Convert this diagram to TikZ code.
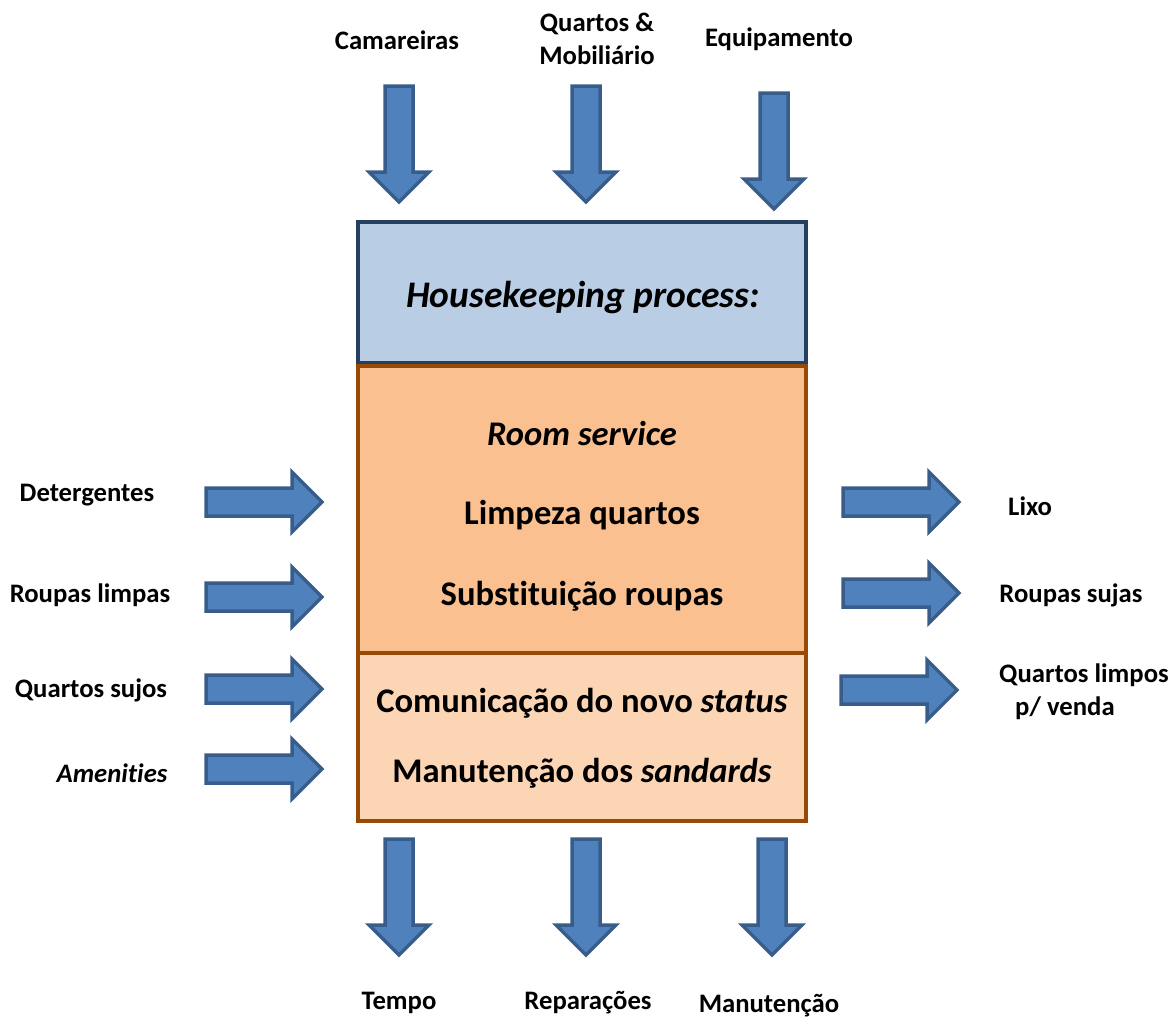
\documentclass[tikz,border=0pt]{standalone}
\usepackage{fontspec}
\setmainfont{Carlito}[Ligatures=NoCommon]
\newcommand{\nolig}{\kern0pt\relax}
\begin{document}
\begin{tikzpicture}[x=1pt,y=-1pt,
  arrowstyle/.style={fill=arrowfill,draw=arrowdraw,line width=3.5pt,line join=miter},
  lbl/.style={font=\fontsize{26.7}{33}\selectfont\bfseries,inner sep=0pt,align=center},
  boxtxt/.style={font=\fontsize{34.6}{40}\selectfont\bfseries,inner sep=0pt},
  downarrow/.pic={\path[arrowstyle] (-14,0) -- (-14,86) -- (-30,86) -- (0,116) -- (30,86) -- (14,86) -- (14,0) -- cycle;},
  rightarrow/.pic={\path[arrowstyle] (0,-14) -- (86,-14) -- (86,-30) -- (116,0) -- (86,30) -- (86,14) -- (0,14) -- cycle;}
]
\definecolor{arrowfill}{HTML}{4F81BD}
\definecolor{arrowdraw}{HTML}{385D8A}
\definecolor{bluefill}{HTML}{B9CDE5}
\definecolor{bluedraw}{HTML}{243F60}
\definecolor{orfill}{HTML}{FAC090}
\definecolor{lorfill}{HTML}{FCD5B5}
\definecolor{ordraw}{HTML}{984807}
\useasboundingbox (0,0) rectangle (1176,1018);

% main box
\path[fill=bluefill,draw=bluedraw,line width=4pt] (358,222) rectangle (806,363);
\path[fill=orfill,draw=ordraw,line width=4.5pt] (358,366) rectangle (806,653);
\path[fill=lorfill,draw=ordraw,line width=4.5pt] (358,653) rectangle (806,821);
\node[boxtxt,font=\fontsize{37.5}{40}\selectfont\bfseries\itshape] (hk) at (583,297) {Housekeeping process:};
\node[boxtxt,font=\fontsize{34.6}{40}\selectfont\bfseries\itshape] (rs) at (582,433) {Room service};
\node[boxtxt] (lq) at (582,515) {Limpeza quartos};
\node[boxtxt] (sr) at (582,596) {Substit\nolig uição roupas};
\node[boxtxt] (cs) at (582,703) {Comunicação do novo \textit{status}};
\node[boxtxt] (ms) at (582,773) {Manutenção dos \textit{sandards}};

% top
\pic at (399,86) {downarrow};
\pic at (586,86) {downarrow};
\pic at (774,93) {downarrow};
\node[lbl] (cam) at (397,40) {Camareiras};
\node[lbl] (qm) at (597,39) {Quartos \&\\Mobiliário};
\node[lbl] (eq) at (779,39) {Equipamento};

% bottom
\pic at (399,839) {downarrow};
\pic at (586,839) {downarrow};
\pic at (772,839) {downarrow};
\node[lbl] (te) at (399,1003) {Tempo};
\node[lbl] (re) at (588,1003) {Reparações};
\node[lbl] (ma) at (769,1006) {Manutenção};

% left
\pic at (206,502) {rightarrow};
\pic at (206,597) {rightarrow};
\pic at (206,689) {rightarrow};
\pic at (206,769) {rightarrow};
\node[lbl] (de) at (87,495) {Detergentes};
\node[lbl] (rl) at (90,595) {Roupas limpas};
\node[lbl] (qs) at (91,690) {Quartos sujos};
\node[lbl,font=\fontsize{26.7}{33}\selectfont\bfseries\itshape] (am) at (112,773) {Ameni\nolig t\nolig ies};

% right
\pic at (843,502) {rightarrow};
\pic at (843,593) {rightarrow};
\pic at (841,690) {rightarrow};
\node[lbl,anchor=west] (lx) at (1008,506) {Lixo};
\node[lbl] (rsj) at (1071,595) {Roupas sujas};
\node[lbl,align=left,anchor=north west] (ql) at (999,664) {Quartos limpos\\\hspace*{16pt}p/ venda};
\end{tikzpicture}
\end{document}
